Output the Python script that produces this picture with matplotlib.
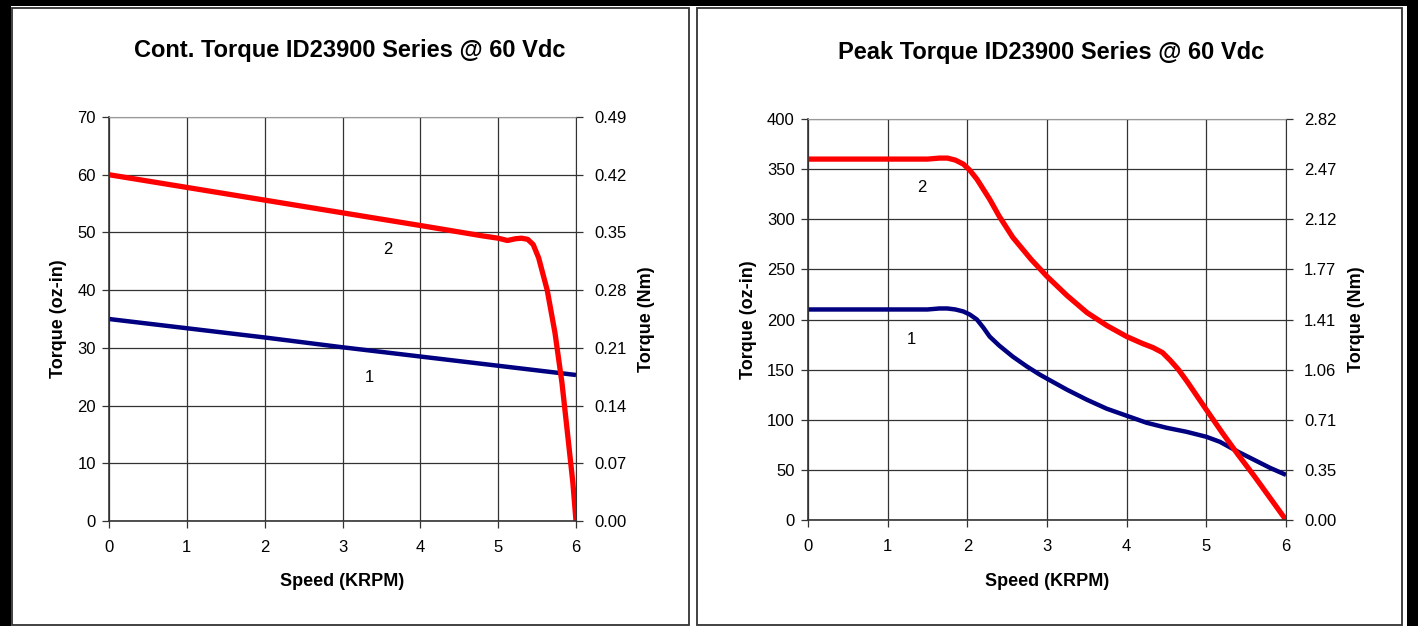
import matplotlib
matplotlib.use("Agg")
from matplotlib import pyplot as plt
from matplotlib.patches import Rectangle

plt.rcParams['font.family'] = ['Liberation Sans', 'DejaVu Sans']

# ---- data ----
speed_ticks = [0, 1, 2, 3, 4, 5, 6]

# continuous torque (oz-in)
cont_x1 = [0, 1, 2, 3, 4, 5, 6]
cont_y1 = [35, 33.4, 31.8, 30.1, 28.5, 26.9, 25.3]
cont_x2 = [0, 1, 2, 3, 4, 4.8, 5.0, 5.12, 5.22, 5.3, 5.38, 5.45, 5.52, 5.63,
           5.73, 5.82, 5.89, 5.96, 6.0]
cont_y2 = [60, 57.8, 55.6, 53.4, 51.2, 49.4, 49.0, 48.6, 48.9, 49.0, 48.8,
           47.9, 45.6, 40.0, 32.6, 23.9, 15.3, 6.6, 0]
cont_ticks = [0, 10, 20, 30, 40, 50, 60, 70]
cont_nm = ['0.00', '0.07', '0.14', '0.21', '0.28', '0.35', '0.42', '0.49']

# peak torque (oz-in)
peak_x1 = [0, 1, 1.5, 1.65, 1.75, 1.85, 1.95, 2.03, 2.12, 2.2, 2.28, 2.4,
           2.57, 2.75, 2.91, 3.0, 3.25, 3.5, 3.75, 4.0, 4.25, 4.5, 4.75,
           5.0, 5.17, 5.4, 5.6, 5.8, 6.0]
peak_y1 = [210, 210, 210, 211, 211, 210, 208, 205, 200, 192, 183, 174,
           163, 153, 145, 141, 130, 120, 111, 104, 97, 92, 88,
           83, 78, 68, 60, 52, 45]
peak_x2 = [0, 1, 1.5, 1.65, 1.75, 1.85, 1.95, 2.03, 2.12, 2.2, 2.28, 2.4,
           2.57, 2.8, 3.0, 3.25, 3.5, 3.75, 4.0, 4.2, 4.33, 4.45, 4.55,
           4.65, 4.76, 5.0, 5.2, 5.4, 5.6, 5.8, 6.0]
peak_y2 = [360, 360, 360, 361, 361, 359, 355, 349, 340, 330, 320, 303,
           282, 260, 243, 224, 207, 194, 183, 176, 172, 167, 159,
           150, 138, 110, 87, 65, 44, 22, 0]
peak_ticks = [0, 50, 100, 150, 200, 250, 300, 350, 400]
peak_nm = ['0.00', '0.35', '0.71', '1.06', '1.41', '1.77', '2.12', '2.47', '2.82']

W, H = 1418, 626
fig = plt.figure(figsize=(W / 100, H / 100), dpi=100, facecolor='white')


def px(x0, y0, x1, y1):
    # pixel box (top-left origin) -> figure fraction [l, b, w, h]
    return [x0 / W, 1 - y1 / H, (x1 - x0) / W, (y1 - y0) / H]


# black frame around the sheet
for box in [(0, 0, 11, H), (0, 0, W, 6), (1407, 0, W, H)]:
    l, b, w, h = px(*box)
    fig.patches.append(Rectangle((l, b), w, h, transform=fig.transFigure,
                                 facecolor='black', edgecolor='none', zorder=0))
# panel borders
for box in [(12, 8, 689, 625), (697, 8, 1402, 625)]:
    l, b, w, h = px(*box)
    fig.patches.append(Rectangle((l, b), w, h, transform=fig.transFigure,
                                 facecolor='none', edgecolor='#333333',
                                 linewidth=1.3, zorder=1))


def draw_panel(rect, title, x1, y1, x2, y2, yticks, nm, lab1, lab2, title_xy):
    ax = fig.add_axes(px(*rect))
    ax.plot(x1, y1, color='#000080', linewidth=3.2, solid_capstyle='butt',
            solid_joinstyle='round')
    ax.plot(x2, y2, color='#FF0000', linewidth=3.8, solid_capstyle='butt',
            solid_joinstyle='round')
    ax.set_xlim(0, 6)
    ax.set_ylim(yticks[0], yticks[-1])
    ax.set_xticks(speed_ticks)
    ax.set_yticks(yticks)
    ax.grid(True, color='#333333', linewidth=0.9)
    ax.set_axisbelow(True)
    ax.tick_params(direction='out', length=5, width=0.9, color='#333333',
                   labelsize=12)
    ax.tick_params(axis='x', pad=9)
    ax.tick_params(axis='y', pad=4.5)
    for s in ['left', 'bottom']:
        ax.spines[s].set_color('#333333')
        ax.spines[s].set_linewidth(1.2)
    ax.spines['top'].set_color('#999999')
    ax.spines['right'].set_color('#333333')
    ax.set_xlabel('Speed (KRPM)', fontsize=13, fontweight='bold', labelpad=13)
    ax.set_ylabel('Torque (oz-in)', fontsize=13, fontweight='bold', labelpad=7)
    ax.text(lab1[0], lab1[1], '1', fontsize=12, ha='center', va='center')
    ax.text(lab2[0], lab2[1], '2', fontsize=12, ha='center', va='center')

    ax2 = ax.twinx()
    ax2.set_ylim(yticks[0], yticks[-1])
    ax2.set_yticks(yticks)
    ax2.set_yticklabels(nm)
    ax2.tick_params(direction='out', length=5, width=0.9, color='#333333',
                    labelsize=12, pad=8)
    ax2.set_ylabel('Torque (Nm)', fontsize=13, fontweight='bold', labelpad=8)
    for s in ax2.spines.values():
        s.set_visible(False)
    fig.text(title_xy[0] / W, 1 - title_xy[1] / H, title, fontsize=17,
             fontweight='bold', ha='center', va='center')
    return ax


draw_panel((109, 117, 576, 521), 'Cont. Torque ID23900 Series @ 60 Vdc',
           cont_x1, cont_y1, cont_x2, cont_y2, cont_ticks, cont_nm,
           (3.35, 24.8), (3.58, 47), (350, 51))
draw_panel((808, 119, 1286, 520), 'Peak Torque ID23900 Series @ 60 Vdc',
           peak_x1, peak_y1, peak_x2, peak_y2, peak_ticks, peak_nm,
           (1.3, 180), (1.43, 332), (1051, 53))

fig.savefig('out.png', dpi=100, facecolor='white')
